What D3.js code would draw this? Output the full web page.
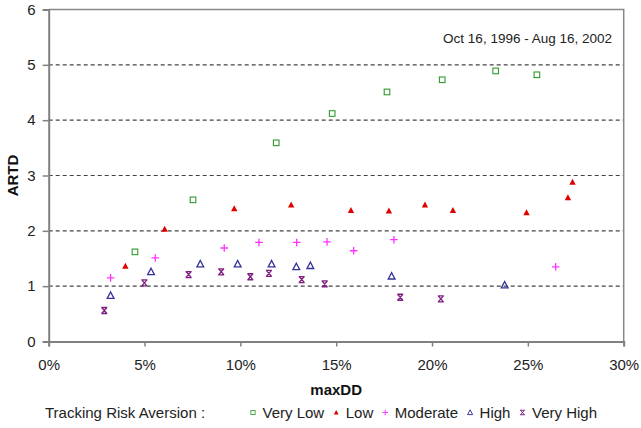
<!DOCTYPE html>
<html>
<head>
<meta charset="utf-8">
<script src="https://cdn.jsdelivr.net/npm/d3@7"></script>
<style>
  html, body { margin: 0; padding: 0; background: #fff; }
  svg { display: block; font-family: "Liberation Sans", Arial, sans-serif; }
</style>
</head>
<body>
<svg id="chart" width="641" height="428"></svg>
<script>
// maxDD (%) and ARTD for each tracking-risk-aversion level
const veryLowX = [4.50, 7.53, 11.87, 14.79, 17.65, 20.53, 23.32, 25.47];
const veryLowY = [1.62, 2.56, 3.59, 4.12, 4.51, 4.73, 4.89, 4.82];

const lowX = [4.00, 6.05, 9.68, 12.65, 15.77, 17.75, 19.63, 21.09, 24.93, 27.09, 27.33];
const lowY = [1.36, 2.03, 2.40, 2.47, 2.37, 2.36, 2.47, 2.37, 2.33, 2.60, 2.88];

const moderateX = [3.23, 5.56, 9.16, 10.97, 12.94, 14.52, 15.91, 18.01, 26.45];
const moderateY = [1.15, 1.51, 1.69, 1.79, 1.79, 1.80, 1.64, 1.84, 1.35];

const highX = [3.23, 5.34, 7.91, 9.86, 11.63, 12.92, 13.65, 17.89, 23.79];
const highY = [0.83, 1.26, 1.40, 1.40, 1.40, 1.35, 1.37, 1.18, 1.02];

const veryHighX = [2.90, 4.99, 7.30, 9.00, 10.52, 11.49, 13.20, 14.40, 18.34, 20.46];
const veryHighY = [0.56, 1.06, 1.21, 1.26, 1.17, 1.23, 1.12, 1.04, 0.80, 0.77];

const seriesNames = ["Very Low", "Low", "Moderate", "High", "Very High"];
const xTicks = [0, 5, 10, 15, 20, 25, 30];
const yTicks = [0, 1, 2, 3, 4, 5, 6];
const periodLabel = "Oct 16, 1996 - Aug 16, 2002";

const series = [
  { name: seriesNames[0], xs: veryLowX, ys: veryLowY, shape: "square", color: "#2e9a2e" },
  { name: seriesNames[1], xs: lowX, ys: lowY, shape: "triFill", color: "#e00000" },
  { name: seriesNames[2], xs: moderateX, ys: moderateY, shape: "plus", color: "#ff33ff" },
  { name: seriesNames[3], xs: highX, ys: highY, shape: "triOpen", color: "#333399" },
  { name: seriesNames[4], xs: veryHighX, ys: veryHighY, shape: "star", color: "#7f1f80" }
];

const svg = d3.select("#chart");
const plotLeft = 48.7, plotRight = 623.7, plotTop = 9.5, plotBottom = 341.5;

const x = d3.scaleLinear().domain([0, 30]).range([plotLeft, plotRight]);
const y = d3.scaleLinear().domain([0, 6]).range([plotBottom, plotTop]);

// dashed horizontal gridlines
svg.append("g").selectAll("line")
  .data(yTicks.filter(d => d > 0 && d < 6))
  .join("line")
  .attr("x1", plotLeft).attr("x2", plotRight)
  .attr("y1", d => y(d)).attr("y2", d => y(d))
  .attr("stroke", "#444").attr("stroke-width", 1.2)
  .attr("stroke-dasharray", "4,3");

// frame: top and right edges
svg.append("path")
  .attr("d", `M${plotLeft},${plotTop}H${plotRight}V${plotBottom}`)
  .attr("fill", "none").attr("stroke", "#888").attr("stroke-width", 1.5);

// axes
const xAxis = svg.append("g")
  .attr("transform", `translate(0,${plotBottom})`)
  .call(d3.axisBottom(x).tickValues(xTicks).tickFormat(d => d + "%").tickSize(5).tickPadding(13));
const yAxis = svg.append("g")
  .attr("transform", `translate(${plotLeft},0)`)
  .call(d3.axisLeft(y).tickValues(yTicks).tickFormat(d3.format("d")).tickSize(6).tickPadding(7));

[xAxis, yAxis].forEach(g => {
  g.select(".domain").attr("stroke", "#808080").attr("stroke-width", 2);
  g.selectAll(".tick line").attr("stroke", "#808080").attr("stroke-width", 1.5);
  g.selectAll(".tick text").attr("fill", "#222").style("font-size", "15px")
    .style("font-family", "'Liberation Sans', Arial, sans-serif");
});

// axis titles
svg.append("text")
  .attr("x", (plotLeft + plotRight) / 2).attr("y", 395)
  .attr("text-anchor", "middle")
  .attr("font-weight", "bold").attr("font-size", 15).attr("fill", "#111")
  .text("maxDD");
svg.append("text")
  .attr("transform", `translate(18,${(plotTop + plotBottom) / 2}) rotate(-90)`)
  .attr("text-anchor", "middle")
  .attr("font-weight", "bold").attr("font-size", 15).attr("fill", "#111")
  .text("ARTD");

// period annotation
svg.append("text")
  .attr("x", 612).attr("y", 42.5)
  .attr("text-anchor", "end")
  .attr("font-size", 13.5).attr("fill", "#222")
  .text(periodLabel);

// marker drawing
function drawMarker(sel, shape, color) {
  if (shape === "square") {
    sel.append("rect").attr("x", -2.8).attr("y", -2.8).attr("width", 5.6).attr("height", 5.6)
      .attr("fill", "none").attr("stroke", color).attr("stroke-width", 1.1);
  } else if (shape === "triFill") {
    sel.append("path").attr("d", "M0,-3.4L3.2,2.6L-3.2,2.6Z").attr("fill", color);
  } else if (shape === "triOpen") {
    sel.append("path").attr("d", "M0,-3.6L3.4,2.8L-3.4,2.8Z")
      .attr("fill", "none").attr("stroke", color).attr("stroke-width", 1.3);
  } else if (shape === "plus") {
    sel.append("path").attr("d", "M-3.8,0H3.8M0,-3.8V3.8")
      .attr("stroke", color).attr("stroke-width", 1.3);
  } else if (shape === "star") {
    sel.append("path").attr("d", "M-3,-3H3M-3,3H3M-2.6,-3L2.6,3M2.6,-3L-2.6,3")
      .attr("stroke", color).attr("stroke-width", 1.3).attr("fill", "none");
  }
}

// scatter points
series.forEach(s => {
  const pts = s.xs.map((v, i) => ({ xv: v, yv: s.ys[i] }));
  svg.append("g").selectAll("g")
    .data(pts)
    .join("g")
    .attr("transform", d => `translate(${x(d.xv)},${y(d.yv)})`)
    .each(function () { drawMarker(d3.select(this), s.shape, s.color); });
});

// legend
const legendBase = 417.5;
svg.append("text")
  .attr("x", 45).attr("y", legendBase)
  .attr("font-size", 15).attr("fill", "#222")
  .text("Tracking Risk Aversion :");

let lx = 253;
series.forEach(s => {
  const g = svg.append("g").attr("transform", `translate(${lx},${legendBase - 5})`);
  drawMarker(g.append("g").attr("transform", "scale(0.75)"), s.shape, s.color);
  const t = g.append("text").attr("x", 9.5).attr("y", 5)
    .attr("font-size", 15).attr("fill", "#222").text(s.name);
  lx += 9.5 + t.node().getComputedTextLength() + 12;
});
</script>
</body>
</html>
